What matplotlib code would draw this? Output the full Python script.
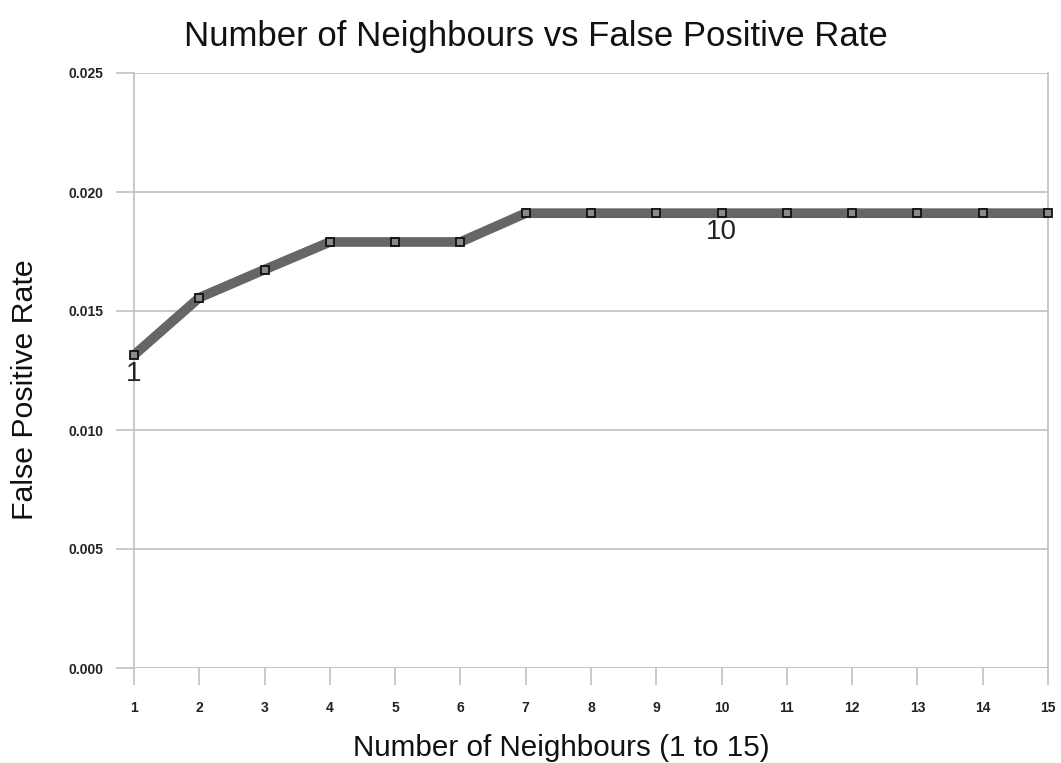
import matplotlib
matplotlib.use("Agg")
import matplotlib.pyplot as plt
from matplotlib.ticker import FormatStrFormatter

neighbours = list(range(1, 16))
fpr = [0.01315, 0.01556, 0.01674, 0.01790, 0.01790, 0.01790,
       0.01911, 0.01911, 0.01911, 0.01911, 0.01911, 0.01911, 0.01911, 0.01911, 0.01911]
label_points = [1, 10]
yticks = [0.000, 0.005, 0.010, 0.015, 0.020, 0.025]

plt.rcParams['font.family'] = ['Liberation Sans', 'DejaVu Sans']

W, H = 1061, 763
fig = plt.figure(figsize=(W / 100, H / 100), dpi=100)
ax = fig.add_axes([134 / W, (H - 668) / H, (1048 - 134) / W, (668 - 73) / H])

grid_c = '#c0c0c0'
ax.plot(neighbours, fpr, color='#666666', lw=7, solid_capstyle='butt',
        solid_joinstyle='round', zorder=3, clip_on=False)
ax.plot(neighbours, fpr, ls='none', marker='s', ms=5.5, mfc='#8a8a8a',
        mec='#111111', mew=1.3, zorder=4, clip_on=False)

for n in label_points:
    ax.annotate(str(n), (n, fpr[n - 1]), xytext=(0, -4), textcoords='offset points',
                ha='center', va='top', fontsize=20, color='#222222', zorder=5)

ax.set_xlim(1, 15)
ax.set_ylim(0, 0.025)
ax.set_xticks(neighbours)
ax.set_yticks(yticks)
ax.yaxis.set_major_formatter(FormatStrFormatter('%.3f'))
ax.grid(axis='y', color=grid_c, lw=1.2)
ax.set_axisbelow(True)
for s in ['top', 'bottom']:
    ax.spines[s].set_visible(False)
for s in ['left', 'right']:
    ax.spines[s].set_color(grid_c)
    ax.spines[s].set_linewidth(1.2)
ax.tick_params(axis='x', length=12.5, width=1.2, color=grid_c, labelsize=10,
               labelcolor='#222222', pad=11)
ax.tick_params(axis='y', length=13, width=1.2, color=grid_c, labelsize=10,
               labelcolor='#222222', pad=9)
for lab in ax.get_xticklabels() + ax.get_yticklabels():
    lab.set_fontweight('bold')
ax.axhline(0, color=grid_c, lw=1.2, zorder=1)

fig.text(536 / W, 1 - 20 / H, 'Number of Neighbours vs False Positive Rate',
         fontsize=25, color='#111111', ha='center', va='top')
fig.text(561 / W, 1 - 748 / H, 'Number of Neighbours (1 to 15)',
         fontsize=21.3, color='#111111', ha='center', va='center')
fig.text(25 / W, 1 - 390 / H, 'False Positive Rate', rotation=90,
         fontsize=21.8, color='#111111', ha='center', va='center')

fig.savefig('out.png', dpi=100, facecolor='white')
